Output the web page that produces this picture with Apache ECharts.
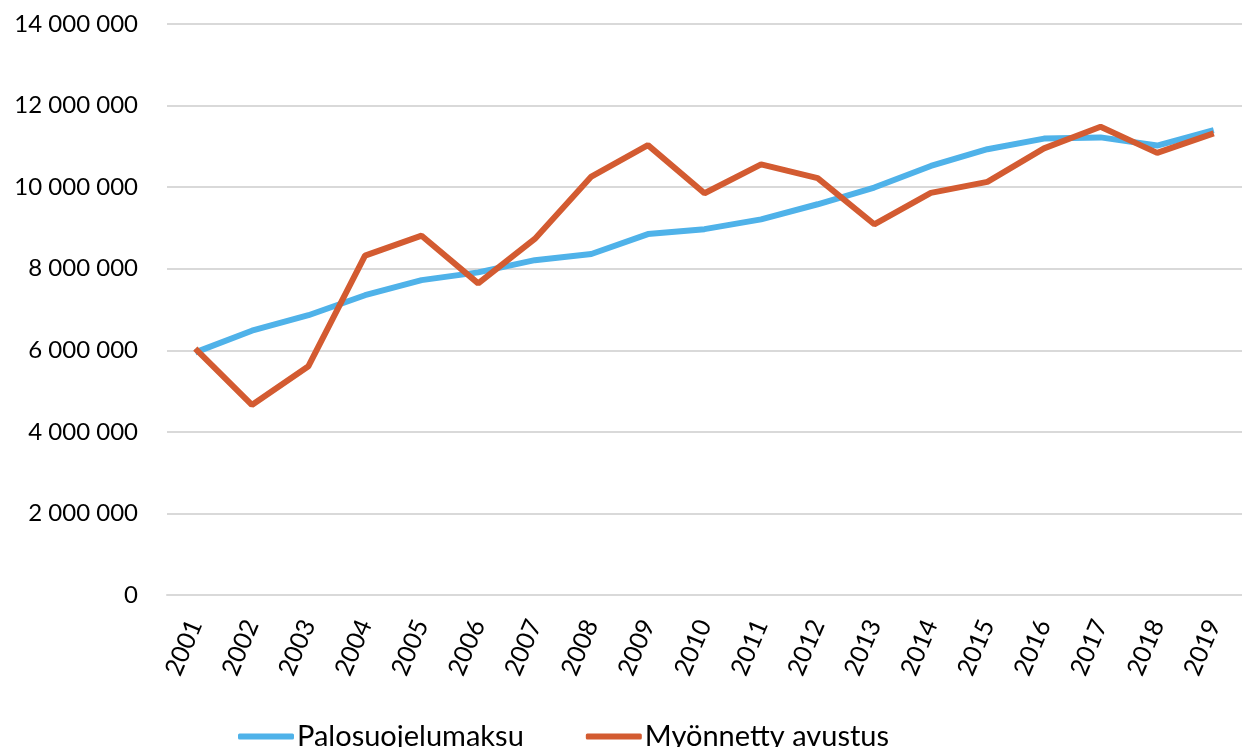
<!DOCTYPE html>
<html>
<head>
<meta charset="utf-8">
<script src="https://cdn.jsdelivr.net/npm/echarts@6/dist/echarts.min.js"></script>
<style>
  html, body { margin: 0; padding: 0; background: #fff; }
  #chart { width: 1242px; height: 747px; }
</style>
</head>
<body>
<div id="chart"></div>
<script>
// vuodet ja sarjat (luettu kuvasta)
var years = ['2001','2002','2003','2004','2005','2006','2007','2008','2009','2010',
             '2011','2012','2013','2014','2015','2016','2017','2018','2019'];
var palosuojelumaksu = [5950000, 6480000, 6860000, 7350000, 7720000, 7910000, 8210000, 8360000, 8850000, 8970000,
                        9210000, 9580000, 9990000, 10520000, 10930000, 11190000, 11220000, 11020000, 11400000];
var myonnettyAvustus = [6040000, 4660000, 5610000, 8320000, 8810000, 7640000, 8730000, 10260000, 11030000, 9850000,
                        10560000, 10220000, 9090000, 9860000, 10130000, 10950000, 11480000, 10840000, 11320000];
var seriesNames = ['Palosuojelumaksu', 'Myönnetty avustus'];

var myChart = echarts.init(document.getElementById('chart'));

function fmt(v) {
  // 14000000 -> "14 000 000"
  return String(v).replace(/\B(?=(\d{3})+(?!\d))/g, ' ');
}

var option = {
  animation: false,
  grid: { left: 167, right: 0, top: 24, bottom: 152 },
  legend: {
    top: 717,
    left: 233,
    itemWidth: 56,
    itemHeight: 6,
    itemGap: 62,
    icon: 'roundRect',
    textStyle: { fontFamily: 'Lato', fontSize: 29, color: '#000', padding: [0, 0, 0, -2] },
    data: seriesNames
  },
  xAxis: {
    type: 'category',
    data: years,
    boundaryGap: true,
    axisLine: { lineStyle: { color: '#d9d9d9', width: 2 } },
    axisTick: { show: false },
    axisLabel: {
      rotate: 67,
      margin: 26,
      fontFamily: 'Lato',
      fontSize: 25,
      color: '#000'
    }
  },
  yAxis: {
    type: 'value',
    min: 0,
    max: 14000000,
    interval: 2000000,
    axisLine: { show: false },
    axisTick: { show: false },
    splitLine: { lineStyle: { color: '#d9d9d9', width: 2 } },
    axisLabel: {
      margin: 29,
      fontFamily: 'Lato',
      fontSize: 24,
      color: '#000',
      formatter: fmt
    }
  },
  series: [
    {
      name: seriesNames[0],
      type: 'line',
      data: palosuojelumaksu,
      showSymbol: false,
      symbol: 'none',
      lineStyle: { color: '#4fb2e9', width: 6 },
      itemStyle: { color: '#4fb2e9' }
    },
    {
      name: seriesNames[1],
      type: 'line',
      data: myonnettyAvustus,
      showSymbol: false,
      symbol: 'none',
      lineStyle: { color: '#d35b31', width: 6 },
      itemStyle: { color: '#d35b31' }
    }
  ]
};

myChart.setOption(option);
</script>
</body>
</html>
